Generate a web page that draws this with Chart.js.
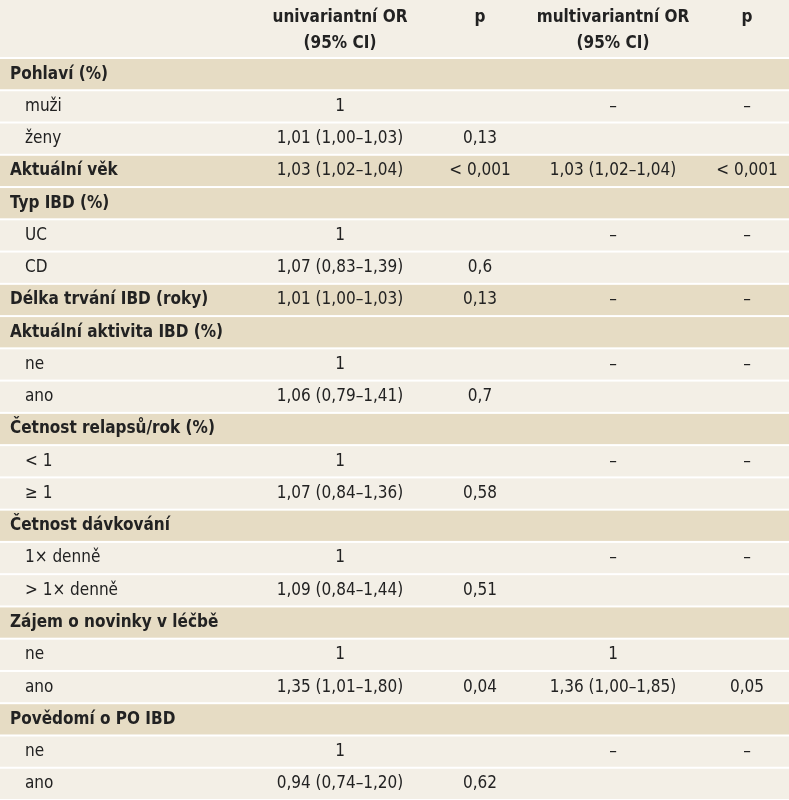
<!DOCTYPE html>
<html><head><meta charset="utf-8">
<script src="https://cdn.jsdelivr.net/npm/chart.js@4"></script>
<style>body{margin:0;background:#fff}#wrap{width:789px;height:800px}</style>
</head><body><div id="wrap"><canvas id="c"></canvas></div>
<script>
// table rows
const rowLabels = ["Pohlaví (%)","muži","ženy","Aktuální věk","Typ IBD (%)","UC","CD","Délka trvání IBD (roky)","Aktuální aktivita IBD (%)","ne","ano","Četnost relapsů/rok (%)","< 1","≥ 1","Četnost dávkování","1× denně","> 1× denně","Zájem o novinky v léčbě","ne","ano","Povědomí o PO IBD","ne","ano"];
const isGroup = [1,0,0,1,1,0,0,1,1,0,0,1,0,0,1,0,0,1,0,0,1,0,0];
const uniOR = ["","1","1,01 (1,00–1,03)","1,03 (1,02–1,04)","","1","1,07 (0,83–1,39)","1,01 (1,00–1,03)","","1","1,06 (0,79–1,41)","","1","1,07 (0,84–1,36)","","1","1,09 (0,84–1,44)","","1","1,35 (1,01–1,80)","","1","0,94 (0,74–1,20)"];
const uniP = ["","","0,13","< 0,001","","","0,6","0,13","","","0,7","","","0,58","","","0,51","","","0,04","","","0,62"];
const multiOR = ["","–","","1,03 (1,02–1,04)","","–","","–","","–","","","–","","","–","","","1","1,36 (1,00–1,85)","","–",""];
const multiP = ["","–","","< 0,001","","–","","–","","–","","","–","","","–","","","","0,05","","–",""];
const headers = [["univariantní OR","(95% CI)"],["p"],["multivariantní OR","(95% CI)"],["p"]];

const colX = [340, 480, 613, 747];
const FONT = '"Liberation Sans Narrow", "DejaVu Sans Condensed", sans-serif';

const tablePlugin = {
  id: "table",
  beforeDraw(chart) {
    const ctx = chart.ctx, y = chart.scales.y, W = chart.width;
    const h = y.getPixelForTick(1) - y.getPixelForTick(0);
    ctx.save();
    ctx.fillStyle = "#f3efe6";
    ctx.fillRect(0, 0, W, y.getPixelForTick(0) - h / 2 - 1);
    ctx.fillStyle = "#222";
    ctx.textAlign = "center"; ctx.textBaseline = "middle";
    ctx.font = "bold 17px " + FONT;
    headers.forEach((hd, i) => hd.forEach((t, j) => ctx.fillText(t, colX[i], 18 + j * 26)));
    rowLabels.forEach((lab, i) => {
      const cy = y.getPixelForTick(i);
      ctx.fillStyle = isGroup[i] ? "#e6dcc4" : "#f3efe6";
      ctx.fillRect(0, cy - h / 2 + 1, W, h - 2);
      ctx.fillStyle = "#222";
      ctx.textAlign = "left";
      ctx.font = (isGroup[i] ? "bold " : "") + "17px " + FONT;
      ctx.fillText(lab, isGroup[i] ? 10 : 25, cy);
      ctx.font = "17px " + FONT;
      ctx.textAlign = "center";
      [uniOR[i], uniP[i], multiOR[i], multiP[i]].forEach((t, k) => ctx.fillText(t, colX[k], cy));
    });
    ctx.restore();
  }
};

new Chart(document.getElementById("c"), {
  type: "bar",
  data: { labels: rowLabels, datasets: [{ data: rowLabels.map(() => null) }] },
  options: {
    indexAxis: "y",
    responsive: true, maintainAspectRatio: false, animation: false,
    layout: { padding: { top: 58, bottom: 0, left: 0, right: 0 } },
    plugins: { legend: { display: false }, tooltip: { enabled: false } },
    scales: {
      x: { display: false, min: 0, max: 1 },
      y: { display: false, offset: true }
    }
  },
  plugins: [tablePlugin]
});
</script></body></html>
